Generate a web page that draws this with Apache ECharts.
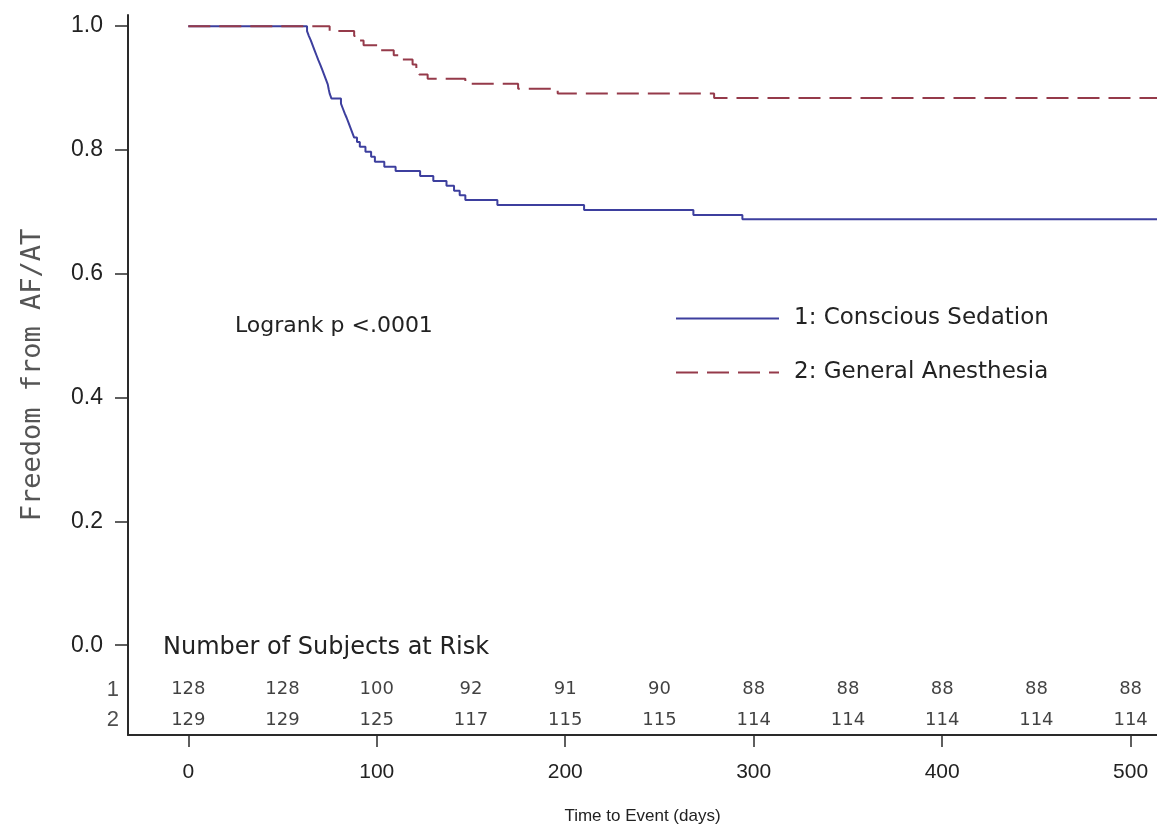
<!DOCTYPE html>
<html>
<head>
<meta charset="utf-8">
<script src="https://cdn.jsdelivr.net/npm/echarts@6/dist/echarts.min.js"></script>
<style>
  html, body { margin: 0; padding: 0; background: #ffffff; }
  #chart { width: 1157px; height: 835px; }
</style>
</head>
<body>
<div id="chart"></div>
<script>
// Kaplan–Meier estimates: time of each step (days) and survival after it
const sedationTimes = [0, 63, 64, 65, 66, 67, 68, 69, 70, 71, 72, 73, 74, 74.5, 75, 76,
  81, 82, 83, 84, 85, 86, 87, 88, 89.5, 91, 94, 97, 99,
  104, 110, 123, 130, 137, 141, 144, 147, 164, 210, 268, 294, 520];
const sedationSurvival = [1.000, 0.992, 0.984, 0.977, 0.969, 0.961, 0.953, 0.945, 0.938, 0.930, 0.922, 0.914, 0.906, 0.898, 0.891, 0.883,
  0.875, 0.867, 0.859, 0.852, 0.844, 0.836, 0.828, 0.820, 0.813, 0.805, 0.797, 0.789, 0.781,
  0.773, 0.766, 0.758, 0.750, 0.742, 0.734, 0.727, 0.719, 0.711, 0.703, 0.695, 0.688, 0.688];

const anesthesiaTimes = [0, 75, 88, 91, 93, 101, 109, 112, 119, 121, 122.5, 127, 147, 175, 196, 279, 520];
const anesthesiaSurvival = [1.000, 0.992, 0.984, 0.977, 0.969, 0.961, 0.953, 0.946, 0.938, 0.930, 0.922, 0.915, 0.907, 0.899, 0.891, 0.884, 0.884];

// Number of subjects at risk
const riskTimes = [0, 50, 100, 150, 200, 250, 300, 350, 400, 450, 500];
const riskSedation = [128, 128, 100, 92, 91, 90, 88, 88, 88, 88, 88];
const riskAnesthesia = [129, 129, 125, 117, 115, 115, 114, 114, 114, 114, 114];
const riskRowLabels = ['1', '2'];

const seriesNames = ['1: Conscious Sedation', '2: General Anesthesia'];
const xTicks = [0, 100, 200, 300, 400, 500];
const yTicks = [0, 0.2, 0.4, 0.6, 0.8, 1.0];

// Layout of the axes and the at-risk rows (in axis units)
const X_MIN = -32, X_MAX = 514;
const Y_MIN = -0.145, Y_MAX = 1.018;
const RISK_ROW_Y = [-0.072, -0.121];
const ROW_LABEL_X = -40;

const TEXT = '#222222';
const AXIS = '#2a2a2a';

const pairs = (xs, ys) => xs.map((x, i) => [x, ys[i]]);

const riskSeries = [riskSedation, riskAnesthesia].map((counts, r) => ({
  type: 'scatter',
  silent: true,
  symbolSize: 1,
  itemStyle: { color: 'rgba(0,0,0,0)' },
  data: riskTimes.map((t, i) => [t, RISK_ROW_Y[r], counts[i]]),
  label: {
    show: true,
    position: 'inside',
    formatter: p => String(p.value[2]),
    fontFamily: 'DejaVu Sans',
    fontSize: 18,
    color: '#111111'
  },
  z: 5
}));

const chart = echarts.init(document.getElementById('chart'));

chart.setOption({
  animation: false,
  backgroundColor: '#ffffff',
  grid: { left: 128, right: 0, top: 15, bottom: 100, containLabel: false, outerBoundsMode: 'none' },
  legend: {
    data: seriesNames,
    orient: 'vertical',
    left: 675,
    top: 307,
    padding: 0,
    itemWidth: 103,
    itemHeight: 14,
    itemGap: 31,
    selectedMode: false,
    itemStyle: { color: 'rgba(0,0,0,0)', borderWidth: 0, opacity: 0 },
    textStyle: { fontFamily: 'DejaVu Sans', fontSize: 23, color: TEXT, padding: [0, 0, 0, 10] }
  },
  xAxis: {
    type: 'value',
    min: X_MIN,
    max: X_MAX,
    name: 'Time to Event (days)',
    nameLocation: 'middle',
    nameGap: 73,
    nameTextStyle: { fontFamily: 'Liberation Sans', fontSize: 17, color: TEXT },
    axisLine: { show: true, onZero: false, lineStyle: { color: AXIS, width: 2 } },
    axisTick: { show: true, customValues: xTicks, length: 12, lineStyle: { color: AXIS, width: 1.5 } },
    axisLabel: { customValues: xTicks, margin: 27, fontFamily: 'Liberation Sans', fontSize: 21, color: TEXT },
    splitLine: { show: false }
  },
  yAxis: {
    type: 'value',
    min: Y_MIN,
    max: Y_MAX,
    name: 'Freedom from AF/AT',
    nameLocation: 'middle',
    nameGap: 82,
    nameTextStyle: { fontFamily: 'DejaVu Sans Mono', fontSize: 27, color: '#555555' },
    axisLine: { show: true, onZero: false, lineStyle: { color: AXIS, width: 2 } },
    axisTick: { show: true, customValues: yTicks, length: 13, lineStyle: { color: AXIS, width: 1.5 } },
    axisLabel: {
      customValues: yTicks,
      formatter: v => v.toFixed(1),
      margin: 25,
      fontFamily: 'Liberation Sans',
      fontSize: 23,
      color: TEXT
    },
    splitLine: { show: false }
  },
  graphic: [
    {
      type: 'text',
      left: 235,
      top: 315,
      style: { text: 'Logrank p <.0001', fontFamily: 'DejaVu Sans', fontSize: 22, fill: TEXT }
    },
    {
      type: 'text',
      left: 163,
      top: 636,
      style: { text: 'Number of Subjects at Risk', fontFamily: 'DejaVu Sans', fontSize: 24, fill: TEXT }
    }
  ],
  series: [
    {
      name: seriesNames[0],
      type: 'line',
      step: 'end',
      symbol: 'none',
      data: pairs(sedationTimes, sedationSurvival),
      lineStyle: { color: '#3d3f9e', width: 2 },
      itemStyle: { color: '#3d3f9e' },
      z: 3
    },
    {
      name: seriesNames[1],
      type: 'line',
      step: 'end',
      symbol: 'none',
      data: pairs(anesthesiaTimes, anesthesiaSurvival),
      lineStyle: { color: '#953a4a', width: 2, type: [22, 9] },
      itemStyle: { color: '#953a4a' },
      z: 4
    },
    ...riskSeries,
    {
      type: 'scatter',
      silent: true,
      clip: false,
      symbolSize: 1,
      itemStyle: { color: 'rgba(0,0,0,0)' },
      data: riskRowLabels.map((s, r) => [ROW_LABEL_X, RISK_ROW_Y[r], s]),
      label: {
        show: true,
        position: 'inside',
        formatter: p => p.value[2],
        fontFamily: 'Liberation Sans',
        fontSize: 22,
        color: TEXT
      },
      z: 5
    }
  ]
});
</script>
</body>
</html>
